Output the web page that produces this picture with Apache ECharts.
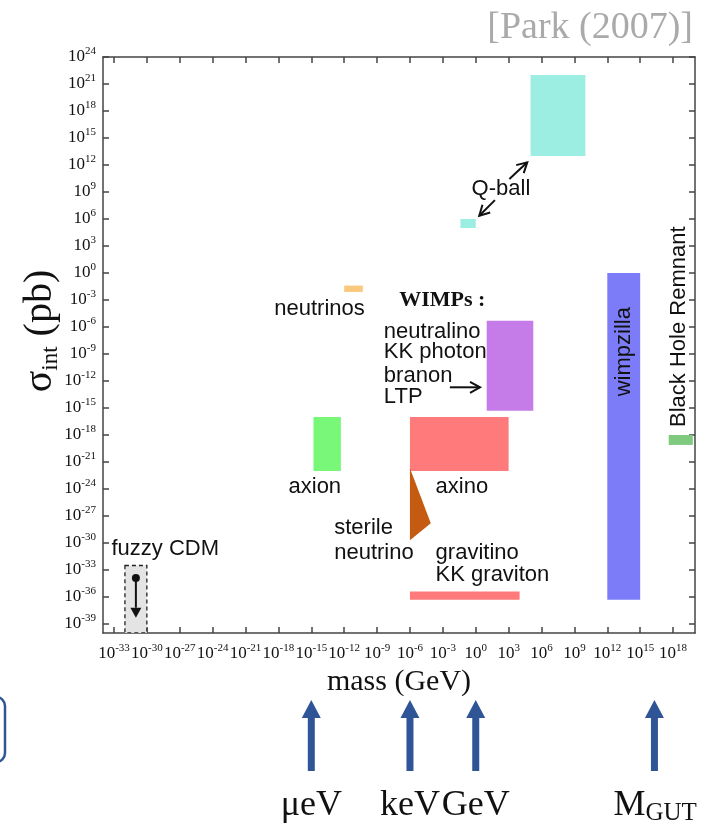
<!DOCTYPE html>
<html><head><meta charset="utf-8">
<script src="https://cdn.jsdelivr.net/npm/echarts@6/dist/echarts.min.js"></script>
<style>html,body{margin:0;padding:0;background:#fff}#c{width:716px;height:825px}</style>
</head><body><div id="c"></div>
<script>
// ---- axis extents and ticks (log10 units) ----
const xRange = [-34, 20];
const yRange = [-40, 24];
const xTickExps = [-33,-30,-27,-24,-21,-18,-15,-12,-9,-6,-3,0,3,6,9,12,15,18];
const yTickExps = [-39,-36,-33,-30,-27,-24,-21,-18,-15,-12,-9,-6,-3,0,3,6,9,12,15,18,21,24];

// ---- candidate regions: log10 mass (GeV) and log10 sigma_int (pb) ----
const regionNames = ['fuzzy CDM','neutrinos','axion','axino','gravitino','WIMPs','Q-ball small','Q-ball large','wimpzilla','Black Hole Remnant'];
const massLo  = [-32, -12, -14.8, -6, -6, 1, -1.4, 5, 12, 17.6];
const massHi  = [-30, -10.3, -12.3, 3, 4, 5.25, 0, 10, 15, 19.8];
const sigmaLo = [-40, -2.1, -22, -22, -36.3, -15.3, 5, 13, -36.3, -19.1];
const sigmaHi = [-32.5, -1.4, -16, -16, -35.4, -5.3, 6, 22, 0, -18];
const regionColors = ['#e4e4e4','#f9c87c','#79f779','#ff7b7b','#ff7b7b','#c57ce9','#9ceee2','#9ceee2','#7c7cf8','#7fca7f'];

// sterile neutrino triangle
const sterileMass  = [-6, -4.1, -6];
const sterileSigma = [-21.7, -27.8, -29.7];

// fuzzy CDM upper-limit point
const fuzzyMass = -31, fuzzySigma = -33.9, fuzzySigmaArrowEnd = -38.3;

// annotation arrows [from, to] in log units
const arrowFrom = [[3.07, 10.44], [1.75, 8.1], [-2.36, -12.7]];
const arrowTo   = [[4.7, 12.3], [0.32, 6.37], [0.39, -12.7]];

// bottom energy-scale markers
const scaleNames = ['μeV', 'keV', 'GeV', 'M_GUT'];
const scaleMass  = [-15, -6, 0, 16.3];

// text annotations
const labels = [
  {t:'fuzzy CDM', x:-33.23, y:-30.67, a:'left'},
  {t:'neutrinos', x:-14.25, y:-4, a:'center'},
  {t:'{w|WIMPs :}', x:-6.98, y:-3, a:'left'},
  {t:'neutralino', x:-8.38, y:-6.52, a:'left'},
  {t:'KK photon', x:-8.38, y:-8.74, a:'left'},
  {t:'branon', x:-8.38, y:-11.44, a:'left'},
  {t:'LTP', x:-8.38, y:-13.74, a:'left'},
  {t:'axion', x:-14.68, y:-23.74, a:'center'},
  {t:'axino', x:-3.66, y:-23.74, a:'left'},
  {t:'sterile', x:-12.91, y:-28.3, a:'left'},
  {t:'neutrino', x:-12.91, y:-31.14, a:'left'},
  {t:'gravitino', x:-3.66, y:-31.14, a:'left'},
  {t:'KK graviton', x:-3.66, y:-33.56, a:'left'},
  {t:'Q-ball', x:2.3, y:9.33, a:'center'},
  {t:'wimpzilla', x:13.5, y:-8.74, a:'center', r:true},
  {t:'Black Hole Remnant', x:18.55, y:-5.97, a:'center', r:true}
];

const SERIF = '"Liberation Serif", "DejaVu Serif", serif';
const SANS = '"Liberation Sans", Arial, sans-serif';

const chart = echarts.init(document.getElementById('c'));

const expFmt = v => '{b|10}{s|' + v + '}';
const tickRich = {
  b: {fontFamily: SERIF, fontSize: 17, lineHeight: 22, color: '#111'},
  s: {fontFamily: SERIF, fontSize: 11, lineHeight: 8, verticalAlign: 'top', color: '#111'}
};
const axisLineStyle = {color: '#444', width: 1.5};

function arrowShape(p0, p1, len, half, filled, color) {
  const dx = p1[0]-p0[0], dy = p1[1]-p0[1];
  const L = Math.sqrt(dx*dx+dy*dy), ux = dx/L, uy = dy/L;
  const bx = p1[0]-ux*len, by = p1[1]-uy*len;
  const l = [bx - uy*half, by + ux*half], r = [bx + uy*half, by - ux*half];
  const kids = [{type:'line', shape:{x1:p0[0], y1:p0[1], x2: filled? bx : p1[0], y2: filled? by : p1[1]}, style:{stroke:color, lineWidth:2}}];
  if (filled) kids.push({type:'polygon', shape:{points:[p1, l, r]}, style:{fill:color}});
  else kids.push({type:'polyline', shape:{points:[l, p1, r]}, style:{stroke:color, lineWidth:2, fill:null}});
  return {type:'group', children:kids};
}

const regionData = regionNames.map((n,i)=>[massLo[i], massHi[i], sigmaLo[i], sigmaHi[i], i]);

const option = {
  animation: false,
  backgroundColor: '#fff',
  grid: {left: 103, top: 57, width: 592, height: 576, outerBoundsMode: 'none', containLabel: false},
  xAxis: [{
    type: 'value', min: xRange[0], max: xRange[1], position: 'bottom',
    axisLine: {show: true, onZero: false, lineStyle: axisLineStyle},
    axisTick: {show: true, inside: true, length: 6, customValues: xTickExps, lineStyle: axisLineStyle},
    axisLabel: {show: true, customValues: xTickExps, margin: 10, formatter: expFmt, rich: tickRich},
    splitLine: {show: false},
    name: 'mass (GeV)', nameLocation: 'middle', nameGap: 34,
    nameTextStyle: {fontFamily: SERIF, fontSize: 30, color: '#111'}
  }, {
    type: 'value', min: xRange[0], max: xRange[1], position: 'top',
    axisLine: {show: true, onZero: false, lineStyle: axisLineStyle},
    axisTick: {show: true, inside: true, length: 6, customValues: xTickExps, lineStyle: axisLineStyle},
    axisLabel: {show: false}, splitLine: {show: false}
  }],
  yAxis: [{
    type: 'value', min: yRange[0], max: yRange[1], position: 'left',
    axisLine: {show: true, onZero: false, lineStyle: axisLineStyle},
    axisTick: {show: true, inside: true, length: 6, customValues: yTickExps, lineStyle: axisLineStyle},
    axisLabel: {show: true, customValues: yTickExps, margin: 7, formatter: expFmt, rich: tickRich},
    splitLine: {show: false}
  }, {
    type: 'value', min: yRange[0], max: yRange[1], position: 'right',
    axisLine: {show: true, onZero: false, lineStyle: axisLineStyle},
    axisTick: {show: true, inside: true, length: 6, customValues: yTickExps, lineStyle: axisLineStyle},
    axisLabel: {show: false}, splitLine: {show: false}
  }],
  graphic: [
    {type: 'text', right: 23, top: 9, style: {text: '[Park (2007)]', fontFamily: SERIF, fontSize: 38, fill: '#aaaaaa'}},
    {type: 'text', x: 40, y: 331, rotation: Math.PI/2, style: {
      text: '{b|σ}{s|int}{b| (pb)}', align: 'center', verticalAlign: 'middle',
      rich: {b: {fontFamily: SERIF, fontSize: 40, lineHeight: 44, fill: '#111'},
             s: {fontFamily: SERIF, fontSize: 23, lineHeight: 16, verticalAlign: 'bottom', fill: '#111'}}}},
    {type: 'rect', shape: {x: -50, y: 697, width: 55, height: 65, r: 9}, style: {fill: null, stroke: '#2f5597', lineWidth: 2.5}}
  ],
  series: [
    {
      type: 'custom', name: 'regions', xAxisIndex: 0, yAxisIndex: 0, clip: true,
      encode: {x: [0,1], y: [2,3]},
      data: regionData,
      renderItem: (params, api) => {
        const i = api.value(4);
        const p0 = api.coord([api.value(0), api.value(3)]);
        const p1 = api.coord([api.value(1), api.value(2)]);
        const fuzzy = regionNames[i] === 'fuzzy CDM';
        return {type: 'rect', shape: {x: p0[0], y: p0[1], width: p1[0]-p0[0], height: p1[1]-p0[1]},
          style: fuzzy ? {fill: regionColors[i], stroke: '#222', lineWidth: 1.3, lineDash: [4, 3]} : {fill: regionColors[i]}};
      }
    },
    {
      type: 'custom', name: 'sterile neutrino', clip: true,
      data: [[sterileMass[0], sterileSigma[0]]],
      renderItem: (params, api) => {
        const pts = sterileMass.map((m, k) => api.coord([m, sterileSigma[k]]));
        return {type: 'polygon', shape: {points: pts}, style: {fill: '#c55a11'}};
      }
    },
    {
      type: 'custom', name: 'fuzzy limit', clip: true,
      data: [[fuzzyMass, fuzzySigma]],
      renderItem: (params, api) => {
        const p = api.coord([fuzzyMass, fuzzySigma]);
        const q = api.coord([fuzzyMass, fuzzySigmaArrowEnd]);
        const g = arrowShape(p, q, 10, 5.5, true, '#111');
        g.children.push({type: 'circle', shape: {cx: p[0], cy: p[1], r: 4}, style: {fill: '#111'}});
        return g;
      }
    },
    {
      type: 'custom', name: 'arrows', clip: false,
      data: arrowFrom.map((f, i) => [f[0], f[1], i]),
      renderItem: (params, api) => {
        const i = params.dataIndex;
        const p0 = api.coord(arrowFrom[i]);
        const p1 = api.coord(arrowTo[i]);
        return arrowShape(p0, p1, 10, 5.5, false, '#111');
      }
    },
    {
      type: 'custom', name: 'labels', clip: false,
      data: labels.map((l, i) => [l.x, l.y, i]),
      renderItem: (params, api) => {
        const L = labels[params.dataIndex];
        const p = api.coord([L.x, L.y]);
        return {type: 'text', x: p[0], y: p[1], rotation: L.r ? Math.PI/2 : 0,
          style: {text: L.t, align: L.a, verticalAlign: 'middle', fontFamily: SANS, fontSize: 22, fill: '#111',
            rich: {w: {fontFamily: SERIF, fontWeight: 'bold', fontSize: 22, fill: '#111'}}}};
      }
    },
    {
      type: 'custom', name: 'scales', clip: false,
      data: scaleMass.map((m, i) => [m, yRange[0], i]),
      renderItem: (params, api) => {
        const i = params.dataIndex;
        const x = api.coord([scaleMass[i], yRange[0]])[0];
        const c = '#2f5597';
        const nm = scaleNames[i];
        const gut = nm === 'M_GUT';
        const txt = gut ? '{m|M}{g|GUT}' : '{m|' + nm + '}';
        return {type: 'group', children: [
          {type: 'rect', shape: {x: x-3.5, y: 716, width: 7, height: 55}, style: {fill: c}},
          {type: 'polygon', shape: {points: [[x, 700], [x-9.5, 718], [x+9.5, 718]]}, style: {fill: c}},
          {type: 'text', x: gut ? x-41 : x, y: 806, style: {text: txt, align: gut ? 'left' : 'center', verticalAlign: 'middle',
            rich: {m: {fontFamily: SERIF, fontSize: 36, lineHeight: 40, fill: '#111'},
                   g: {fontFamily: SERIF, fontSize: 25, lineHeight: 12, verticalAlign: 'bottom', fill: '#111'}}}}
        ]};
      }
    }
  ]
};
chart.setOption(option);
</script></body></html>
